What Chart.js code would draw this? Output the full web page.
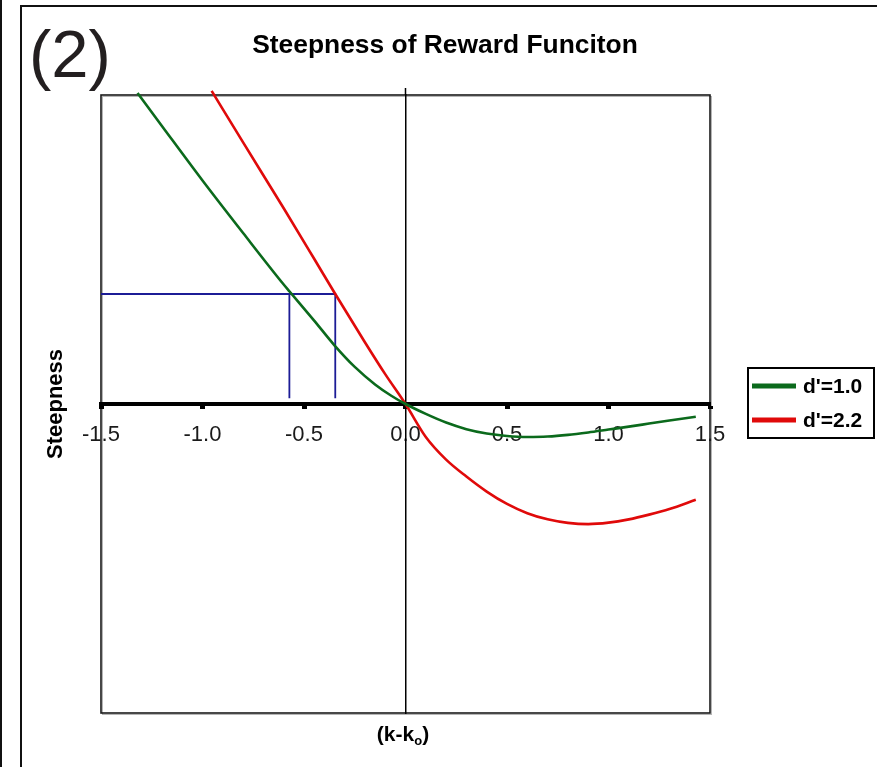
<!DOCTYPE html>
<html>
<head>
<meta charset="utf-8">
<title>Steepness of Reward Funciton</title>
<script src="https://cdn.jsdelivr.net/npm/chart.js@4/dist/chart.umd.min.js"></script>
<style>
  html, body { margin: 0; padding: 0; background: #fff; }
  canvas { display: block; }
</style>
</head>
<body>
<canvas id="chart" width="877" height="767"></canvas>
<script>
// values, x = (k - k0)
const lowLabel = "d'=1.0"
const lowX = [-1.32, -1.2, -1.0, -0.8, -0.6, -0.57, -0.45, -0.35, -0.25, -0.15, -0.07, 0, 0.1, 0.2, 0.3, 0.4, 0.5, 0.6, 0.7, 0.8, 0.9, 1.0, 1.1, 1.2, 1.3, 1.43]
const lowY = [1.51, 1.35, 1.085, 0.83, 0.58, 0.545, 0.405, 0.285, 0.18, 0.095, 0.04, 0, -0.048, -0.09, -0.122, -0.143, -0.155, -0.16, -0.158, -0.15, -0.138, -0.124, -0.11, -0.095, -0.08, -0.062]

const highLabel = "d'=2.2"
const highX = [-0.955, -0.8, -0.6, -0.45, -0.346, -0.2, -0.1, 0, 0.1, 0.2, 0.3, 0.4, 0.5, 0.6, 0.7, 0.8, 0.9, 1.0, 1.1, 1.2, 1.3, 1.43]
const highY = [1.52, 1.27, 0.95, 0.705, 0.534, 0.3, 0.145, 0, -0.16, -0.27, -0.352, -0.425, -0.485, -0.53, -0.56, -0.577, -0.583, -0.576, -0.56, -0.537, -0.51, -0.465]

// blue guide lines (same steepness, two d' values)
const guideAX = [-1.5, -0.346, -0.346]
const guideAY = [0.534, 0.534, 0.028]
const guideBX = [-0.572, -0.572]
const guideBY = [0.534, 0.028]

const xTicks = [-1.5, -1.0, -0.5, 0.0, 0.5, 1.0, 1.5]

const FONT = "'Liberation Sans', Arial, Helvetica, sans-serif"
const GREEN = "#0b6a1c"
const RED = "#e00a0a"
const BLUE = "#1c1c96"

const toPoints = (xs, ys) => xs.map((x, i) => ({ x, y: ys[i] }))

const curve = (label, xs, ys, color) => ({
    label,
    data: toPoints(xs, ys),
    showLine: true,
    borderColor: color,
    backgroundColor: color,
    borderWidth: 2.6,
    pointRadius: 0,
    cubicInterpolationMode: "monotone",
    clip: 10
})

const guide = (xs, ys) => ({
    label: "guide",
    data: toPoints(xs, ys),
    showLine: true,
    borderColor: BLUE,
    borderWidth: 1.8,
    pointRadius: 0,
    tension: 0
})

const decorations = {
    id: "decorations",
    beforeDraw(chart) {
        const { ctx, chartArea: a, width, height } = chart
        ctx.save()
        ctx.fillStyle = "#fff"
        ctx.fillRect(0, 0, width, height)

        ctx.strokeStyle = "#111"
        ctx.lineWidth = 2
        ctx.beginPath()
        ctx.moveTo(1, 0)
        ctx.lineTo(1, height)
        ctx.stroke()
        ctx.beginPath()
        ctx.moveTo(21, height)
        ctx.lineTo(21, 6)
        ctx.lineTo(width, 6)
        ctx.stroke()

        ctx.strokeStyle = "#b5b5b5"
        ctx.lineWidth = 1
        ctx.strokeRect(a.left + 1.5, a.top + 1.5, a.width, a.height)
        ctx.strokeStyle = "#1a1a1a"
        ctx.lineWidth = 1.6
        ctx.strokeRect(a.left, a.top, a.width, a.height)

        // the vertical axis pokes a little above the plot box
        const x0 = chart.scales.x.getPixelForValue(0)
        ctx.strokeStyle = "#000"
        ctx.lineWidth = 1.5
        ctx.beginPath()
        ctx.moveTo(x0, a.top - 7)
        ctx.lineTo(x0, a.top)
        ctx.stroke()
        ctx.restore()
    },
    afterDraw(chart) {
        const { ctx } = chart
        ctx.save()
        ctx.fillStyle = "#231f20"
        ctx.textBaseline = "alphabetic"
        ctx.textAlign = "left"
        ctx.font = `67px ${FONT}`
        ctx.fillText("(2)", 29, 77)

        ctx.fillStyle = "#000"
        ctx.textAlign = "center"
        ctx.font = `bold 26.4px ${FONT}`
        ctx.fillText("Steepness of Reward Funciton", 445, 53)

        // x axis title with subscript
        const main = `bold 21px ${FONT}`
        const sub = `bold 13px ${FONT}`
        ctx.textAlign = "left"
        ctx.font = main
        const w1 = ctx.measureText("(k-k").width
        const w3 = ctx.measureText(")").width
        ctx.font = sub
        const w2 = ctx.measureText("o").width
        let x = 403 - (w1 + w2 + w3) / 2
        ctx.font = main
        ctx.fillText("(k-k", x, 741)
        x += w1
        ctx.font = sub
        ctx.fillText("o", x, 745)
        x += w2
        ctx.font = main
        ctx.fillText(")", x, 741)

        // y axis title
        ctx.save()
        ctx.translate(56, 404)
        ctx.rotate(-Math.PI / 2)
        ctx.textAlign = "center"
        ctx.textBaseline = "middle"
        ctx.font = `bold 22px ${FONT}`
        ctx.fillText("Steepness", 0, 0)
        ctx.restore()

        // legend
        ctx.strokeStyle = "#000"
        ctx.lineWidth = 2
        ctx.strokeRect(748, 368, 126, 70)
        const entries = chart.data.datasets.slice(0, 2)
        entries.forEach((ds, i) => {
            const y = 386 + i * 34
            ctx.strokeStyle = ds.borderColor
            ctx.lineWidth = 5
            ctx.beginPath()
            ctx.moveTo(752, y)
            ctx.lineTo(796, y)
            ctx.stroke()
            ctx.fillStyle = "#000"
            ctx.font = `bold 21px ${FONT}`
            ctx.textAlign = "left"
            ctx.textBaseline = "alphabetic"
            ctx.fillText(ds.label, 803, y + 7)
        })
        ctx.restore()
    }
}

const chart = new Chart(document.getElementById("chart"), {
    type: "scatter",
    data: {
        datasets: [
            curve(lowLabel, lowX, lowY, GREEN),
            curve(highLabel, highX, highY, RED),
            guide(guideAX, guideAY),
            guide(guideBX, guideBY)
        ]
    },
    options: {
        responsive: false,
        animation: false,
        layout: { padding: { left: 101, right: 167, top: 95, bottom: 54 } },
        plugins: {
            legend: { display: false },
            title: { display: false },
            tooltip: { enabled: false }
        },
        scales: {
            x: {
                type: "linear",
                min: -1.5,
                max: 1.5,
                position: { y: 0 },
                afterBuildTicks: (scale) => { scale.ticks = xTicks.map(value => ({ value })) },
                ticks: {
                    autoSkip: false,
                    maxRotation: 0,
                    padding: 15,
                    color: "#1a1a1a",
                    font: { family: FONT, size: 22 },
                    callback: (v) => Number(v).toFixed(1)
                },
                grid: {
                    display: true,
                    drawOnChartArea: false,
                    drawTicks: true,
                    tickLength: 3,
                    tickWidth: 5,
                    tickColor: "#000"
                },
                border: { display: true, color: "#000", width: 4 }
            },
            y: {
                type: "linear",
                min: -1.5,
                max: 1.5,
                position: { x: 0 },
                ticks: { display: false },
                grid: { display: false },
                border: { display: true, color: "#000", width: 1.5 }
            }
        }
    },
    plugins: [decorations]
})
</script>
</body>
</html>
